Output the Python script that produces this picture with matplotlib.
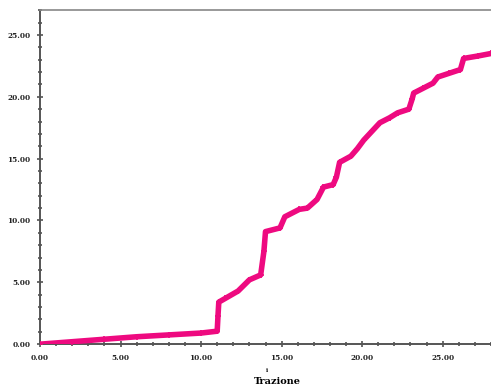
import matplotlib
matplotlib.use("Agg")
import matplotlib.pyplot as plt
import numpy as np
from matplotlib.ticker import MultipleLocator, FormatStrFormatter

# curva
trazione = [0.0, 2.0, 4.0, 6.0, 8.0, 10.0, 11.0, 11.05, 11.1, 11.5, 12.3, 13.0, 13.7,
            13.9, 14.0, 14.9, 15.2, 16.1, 16.6, 17.2, 17.6, 18.2, 18.4, 18.6, 19.3,
            19.7, 20.1, 20.6, 21.1, 21.7, 22.2, 22.9, 23.1, 23.2, 23.8, 24.4, 24.7,
            25.4, 26.1, 26.3, 27.2, 28.0]
valore = [0.0, 0.2, 0.4, 0.6, 0.75, 0.9, 1.05, 2.3, 3.4, 3.7, 4.3, 5.2, 5.6,
          7.5, 9.1, 9.4, 10.3, 10.9, 11.0, 11.7, 12.7, 12.9, 13.5, 14.7, 15.2,
          15.8, 16.5, 17.2, 17.9, 18.3, 18.7, 19.0, 19.8, 20.3, 20.7, 21.1, 21.6,
          21.9, 22.2, 23.1, 23.3, 23.5]

fig = plt.figure(figsize=(4.91, 3.92), dpi=100)
ax = fig.add_axes([0.0815, 0.122, 0.9185, 0.852])

ax.plot(trazione, valore, color='#ee0a80', linewidth=4, solid_capstyle='round',
        solid_joinstyle='round', marker='+', markersize=5, markeredgewidth=1.2,
        zorder=3)

ax.set_xlim(0, 28)
ax.set_ylim(0, 27)
ax.xaxis.set_major_locator(MultipleLocator(5))
ax.xaxis.set_minor_locator(MultipleLocator(1))
ax.yaxis.set_major_locator(MultipleLocator(5))
ax.yaxis.set_minor_locator(MultipleLocator(1))
ax.xaxis.set_major_formatter(FormatStrFormatter('%.2f'))
ax.yaxis.set_major_formatter(FormatStrFormatter('%.2f'))

ax.spines['right'].set_visible(False)
for s in ['left', 'bottom']:
    ax.spines[s].set_color('#555555')
    ax.spines[s].set_linewidth(1.4)
ax.spines['top'].set_color('#888888')
ax.spines['top'].set_linewidth(1.2)

ax.tick_params(which='both', direction='inout', color='#444444', width=1.1)
ax.tick_params(which='major', length=4, labelsize=5.3, pad=5)
ax.tick_params(which='minor', length=2.5)
ax.tick_params(top=False, right=False)
for lab in ax.get_xticklabels() + ax.get_yticklabels():
    lab.set_fontfamily('DejaVu Serif')
    lab.set_fontweight('bold')
    lab.set_color('#222222')

fig.text(0.565, 0.028, 'Trazione', fontsize=7, fontfamily='DejaVu Serif',
         fontweight='bold', ha='center', va='center')
fig.text(0.544, 0.055, 'i', fontsize=4, fontfamily='DejaVu Serif',
         fontweight='bold', ha='center', va='center')

fig.savefig('out.png', dpi=100)
